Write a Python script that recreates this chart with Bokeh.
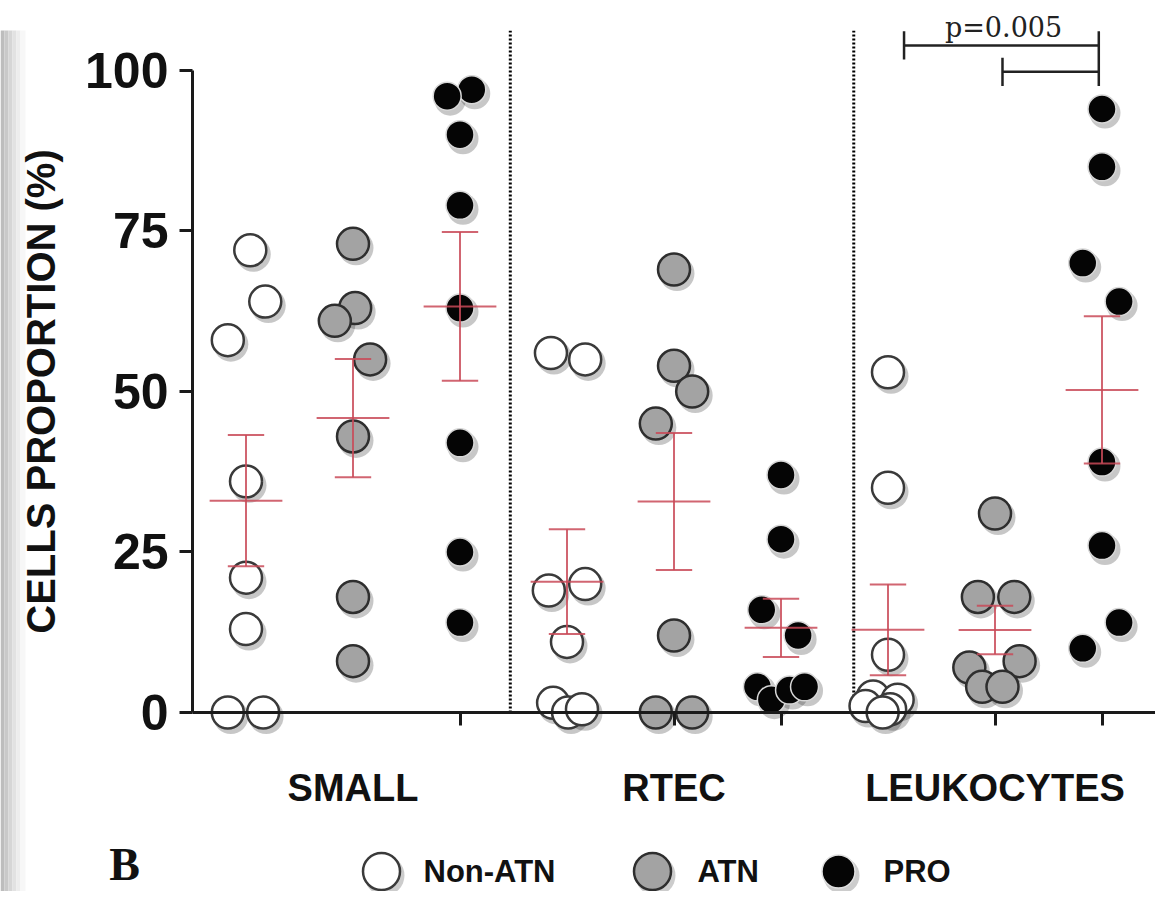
import numpy as np
from bokeh.plotting import figure
from bokeh.models import Range1d, FixedTicker
from bokeh.core.properties import value
from bokeh.embed import file_html
from bokeh.resources import INLINE

# ---------------- data ----------------
categories = ["SMALL", "RTEC", "LEUKOCYTES"]
groups = ["Non-ATN", "ATN", "PRO"]

small_non_atn = [72, 64, 58, 36, 21, 13, 0, 0]
small_atn = [73, 63, 61, 55, 43, 18, 8]
small_pro = [97, 96, 90, 79, 63, 42, 25, 14]
rtec_non_atn = [56, 55, 20, 19, 11, 1.5, 0, 0.5]
rtec_atn = [69, 54, 50, 45, 12, 0, 0]
rtec_pro = [37, 27, 16, 12, 4, 2, 3.5, 4]
leuko_non_atn = [53, 35, 9, 2.5, 2, 1, 0.5, 0]
leuko_atn = [31, 18, 18, 8, 7, 4, 4]
leuko_pro = [94, 85, 70, 64, 39, 26, 14, 10]

# horizontal scatter of each dot (in column widths)
small_non_atn_jit = [0.04, 0.18, -0.17, 0, 0, 0, -0.17, 0.16]
small_atn_jit = [0, 0.02, -0.17, 0.16, 0, 0, 0]
small_pro_jit = [0.11, -0.12, 0, 0, 0, 0, 0, 0]
rtec_non_atn_jit = [-0.15, 0.17, 0.17, -0.17, 0, -0.13, 0.01, 0.14]
rtec_atn_jit = [0, 0, 0.17, -0.17, 0, -0.17, 0.17]
rtec_pro_jit = [0, 0, -0.18, 0.16, -0.22, -0.09, 0.08, 0.22]
leuko_non_atn_jit = [0, 0, 0, -0.14, 0.09, -0.21, 0.02, -0.05]
leuko_atn_jit = [0, -0.16, 0.18, 0.23, -0.24, -0.12, 0.07]
leuko_pro_jit = [0, 0, -0.18, 0.16, 0, 0, 0.16, -0.18]

y_ticks = [0, 25, 50, 75, 100]
p_value_label = "p=0.005"

series_values = {
    "Non-ATN": [small_non_atn, rtec_non_atn, leuko_non_atn],
    "ATN": [small_atn, rtec_atn, leuko_atn],
    "PRO": [small_pro, rtec_pro, leuko_pro],
}
series_jitter = {
    "Non-ATN": [small_non_atn_jit, rtec_non_atn_jit, leuko_non_atn_jit],
    "ATN": [small_atn_jit, rtec_atn_jit, leuko_atn_jit],
    "PRO": [small_pro_jit, rtec_pro_jit, leuko_pro_jit],
}

# ---------------- styles / layout ----------------
FILL = {"Non-ATN": "#ffffff", "ATN": "#a3a3a3", "PRO": "#050505"}
EDGE = {"Non-ATN": "#3a3a3a", "ATN": "#2e2e2e", "PRO": "#d8d8d8"}
SIZE = {"Non-ATN": 32, "ATN": 32, "PRO": 28}
SANS = "Liberation Sans"
ERR = "#c94a58"

FW, FH = 1155, 891
p = figure(frame_width=FW, frame_height=FH, output_backend="svg",
           toolbar_location=None, min_border=0,
           x_range=Range1d(-1.2944, 9.5), y_range=Range1d(-27.88, 110.90))
p.extra_x_ranges = {"px": Range1d(0, FW)}
p.extra_y_ranges = {"px": Range1d(FH, 0)}
p.grid.visible = False
p.outline_line_color = None
p.background_fill_color = "white"
p.border_fill_color = "white"

# scan shading on the left edge
strip_l = [0, 4, 8, 12, 16, 20]
strip_r = [4, 8, 12, 16, 20, 25]
strip_c = ["#bdbdbd", "#c9c9c9", "#d6d6d6", "#e2e2e2", "#ededed", "#f7f7f7"]
p.quad(left=strip_l, right=strip_r, top=[30] * 6, bottom=[FH] * 6, fill_color=strip_c,
       line_color=None, x_range_name="px", y_range_name="px")

# axes
xa = p.xaxis[0]
xa.fixed_location = 0
xa.ticker = FixedTicker(ticks=[2, 5, 8], minor_ticks=[3, 5, 6, 8, 9])
xa.major_label_overrides = {2: categories[0], 5: categories[1], 8: categories[2]}
xa.bounds = (0.5, 9.5)
xa.axis_line_width = 3
xa.axis_line_color = "#1a1a1a"
xa.major_tick_out = 0
xa.major_tick_in = 0
xa.minor_tick_out = 13
xa.minor_tick_in = 0
xa.minor_tick_line_width = 3
xa.minor_tick_line_color = "#1a1a1a"
xa.major_label_standoff = 41
xa.major_label_text_font = SANS
xa.major_label_text_font_style = "bold"
xa.major_label_text_font_size = "38px"
xa.major_label_text_color = "#111111"

ya = p.yaxis[0]
ya.fixed_location = 0.5
ya.ticker = FixedTicker(ticks=y_ticks, minor_ticks=[])
ya.bounds = (0, 100)
ya.axis_line_width = 3
ya.axis_line_color = "#1a1a1a"
ya.major_tick_out = 13
ya.major_tick_in = 0
ya.major_tick_line_width = 3
ya.major_tick_line_color = "#1a1a1a"
ya.major_label_standoff = 11
ya.major_label_text_font = SANS
ya.major_label_text_font_style = "bold"
ya.major_label_text_font_size = "50px"
ya.major_label_text_color = "#111111"
ya.axis_label = "CELLS PROPORTION (%)"
ya.axis_label_text_font = SANS
ya.axis_label_text_font_style = "bold"
ya.axis_label_text_font_size = "40px"
ya.axis_label_text_color = "#111111"
ya.axis_label_standoff = 19

# dotted separators between cell types
separators = [3.47, 6.68]
p.segment(x0=separators, x1=separators, y0=[0, 0], y1=[106.2, 106.2],
          line_color="#000000", line_width=3, line_dash="2 2")

# dots (with a soft drop shadow)
DX, DY = 3 / 107.0, -4 / 6.42
for gi, g in enumerate(groups):
    xs, ys = [], []
    for ci in range(len(categories)):
        col = ci * 3 + gi + 1
        for v, j in zip(series_values[g][ci], series_jitter[g][ci]):
            xs.append(col + j)
            ys.append(v)
    xs = np.array(xs, dtype=float)
    ys = np.array(ys, dtype=float)
    p.scatter(x=xs + DX, y=ys + DY, size=SIZE[g] + 3, fill_color="#000000",
              fill_alpha=0.22, line_color=None)
    p.scatter(x=xs, y=ys, size=SIZE[g], fill_color=FILL[g], line_color=EDGE[g],
              line_width=2.5 if g != "PRO" else 1.5)

# mean +/- SEM
cx, m, s = [], [], []
for gi, g in enumerate(groups):
    for ci in range(len(categories)):
        vals = np.array(series_values[g][ci], dtype=float)
        cx.append(ci * 3 + gi + 1)
        m.append(vals.mean())
        s.append(vals.std(ddof=1) / np.sqrt(len(vals)))
cx, m, s = np.array(cx, float), np.array(m), np.array(s)
p.segment(x0=cx, x1=cx, y0=m - s, y1=m + s, line_color=ERR, line_width=2, line_alpha=0.85)
p.segment(x0=cx - 0.17, x1=cx + 0.17, y0=m + s, y1=m + s, line_color=ERR, line_width=2, line_alpha=0.85)
p.segment(x0=cx - 0.17, x1=cx + 0.17, y0=m - s, y1=m - s, line_color=ERR, line_width=2, line_alpha=0.85)
p.segment(x0=cx - 0.34, x1=cx + 0.34, y0=m, y1=m, line_color=ERR, line_width=2, line_alpha=0.85)

# significance brackets
bracket_x0 = [7.15, 8.07]
bracket_x1 = [8.97, 8.97]
bracket_y = [103.9, 99.8]
cap = 2.2
p.segment(x0=bracket_x0, x1=bracket_x1, y0=bracket_y, y1=bracket_y, line_color="#222222", line_width=2.5)
p.segment(x0=bracket_x0, x1=bracket_x0, y0=[y - cap for y in bracket_y], y1=[y + cap for y in bracket_y],
          line_color="#222222", line_width=2.5)
p.segment(x0=[bracket_x1[0]], x1=[bracket_x1[0]], y0=[bracket_y[1] - cap], y1=[bracket_y[0] + cap],
          line_color="#222222", line_width=2.5)
p.text(x=[8.08], y=[106.7], text=[p_value_label], text_font=value("DejaVu Serif"),
       text_font_size="27px", text_align="center", text_baseline="middle", text_color="#222222")

# legend (drawn in pixel space)
legend_y = 871
legend_key_x = [381, 652, 838]
legend_text_x = [423, 697, 883]
for gi, g in enumerate(groups):
    p.scatter(x=[legend_key_x[gi] + 3], y=[legend_y + 4], size=SIZE[g] + 8, fill_color="#000000",
              fill_alpha=0.2, line_color=None, x_range_name="px", y_range_name="px")
    p.scatter(x=[legend_key_x[gi]], y=[legend_y], size=SIZE[g] + 5, fill_color=FILL[g],
              line_color=EDGE[g] if g != "PRO" else "#e0e0e0", line_width=2.5 if g != "PRO" else 1.5,
              x_range_name="px", y_range_name="px")
p.text(x=legend_text_x, y=[legend_y] * 3, text=groups, text_font=value(SANS), text_font_style="bold",
       text_font_size="31px", text_align="left", text_baseline="middle", text_color="#111111",
       x_range_name="px", y_range_name="px")

# panel letter
p.text(x=[124], y=[864], text=["B"], text_font=value("Liberation Serif"), text_font_style="bold",
       text_font_size="46px", text_align="center", text_baseline="middle", text_color="#111111",
       x_range_name="px", y_range_name="px")

open("out.html", "w").write(file_html(p, INLINE))
